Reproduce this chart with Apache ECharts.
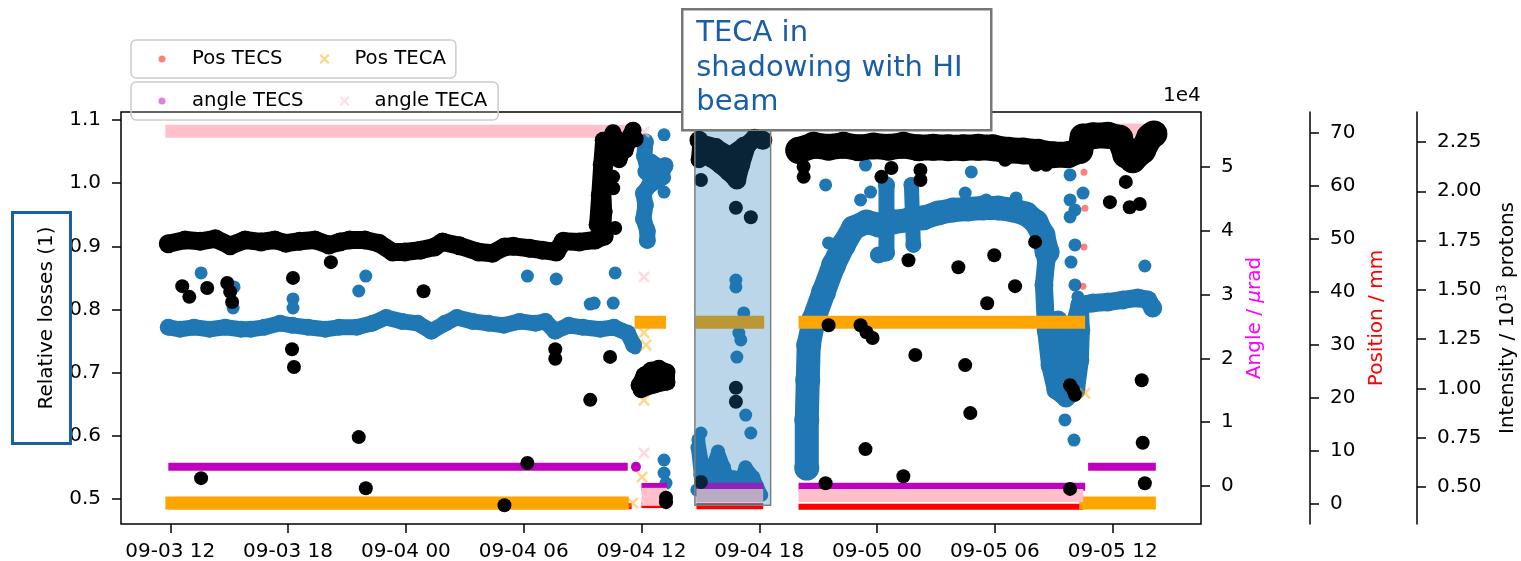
<!DOCTYPE html>
<html>
<head>
<meta charset="utf-8">
<script src="https://cdn.jsdelivr.net/npm/echarts@6/dist/echarts.min.js"></script>
<style>
  html, body { margin: 0; padding: 0; background: #fff; }
  #chart { width: 1521px; height: 561px; }
</style>
</head>
<body>
<div id="chart"></div>
<script>
// Time is expressed in hours since 09-03 00:00.
const timeTicks = [12, 18, 24, 30, 36, 42, 48, 54, 60];
const timeTickLabels = ['09-03 12', '09-03 18', '09-04 00', '09-04 06', '09-04 12',
                        '09-04 18', '09-05 00', '09-05 06', '09-05 12'];
const lossTicks = [0.5, 0.6, 0.7, 0.8, 0.9, 1.0, 1.1];
const angleTicks = [0, 10000, 20000, 30000, 40000, 50000];
const positionTicks = [0, 10, 20, 30, 40, 50, 60, 70];
const intensityTicks = [0.5, 0.75, 1.0, 1.25, 1.5, 1.75, 2.0, 2.25];

// Period where TECA shadows the HI beam: [start h, end h, low loss, high loss]
const shadowSpan = [[38.72, 42.58, 0.490, 1.084]];

// Crystal positions (mm), held levels: [start h, end h, value]
const posTecsLevels = [[11.9, 35.5, -0.4], [36.0, 37.3, -0.2], [38.8, 42.2, -0.4], [44.0, 58.5, -0.5]];
const posTecaLevels = [[11.75, 35.35, 0.2], [35.65, 37.25, 34.3], [38.75, 42.25, 34.3], [44.0, 58.6, 34.3], [58.3, 62.2, 0.2]];
const posTecsSparse = [[58.54, 62.6], [58.59, 55.8], [58.54, 48.5], [58.49, 41.1]];
const posTecaSparse = [[35.55, 0.2], [36.13, 32.3], [36.23, 30.0], [36.13, 19.6], [36.03, 5.1], [58.59, 20.9]];

// Crystal angles (urad), held levels: [start h, end h, value]
const angleTecsLevels = [[11.9, 35.3, 3000], [36.0, 37.3, -150], [38.8, 42.2, -100], [44.0, 58.6, -100], [58.75, 62.2, 3000]];
const angleTecaLevels = [[11.75, 35.5, 55600], [38.8, 42.2, -1500], [44.0, 58.5, -1500], [58.4, 62.2, 55800]];
const angleTecaPatch = [[36.0, -1700], [37.3, -1700]];
const angleTecsSparse = [[35.72, 3000]];
const angleTecaSparse = [[36.13, 55500], [36.13, 32760], [36.13, 5170]];

// Relative losses [h, value]
const lossRun1 = [[11.9, 0.904], [12.76, 0.910], [13.52, 0.908], [14.29, 0.912], [15.05, 0.901], [15.81, 0.910],
  [16.62, 0.907], [17.33, 0.910], [17.89, 0.905], [18.60, 0.908], [19.37, 0.910], [20.08, 0.902], [20.64, 0.907],
  [21.14, 0.910], [21.91, 0.910], [22.62, 0.905], [23.33, 0.891], [23.94, 0.891], [24.75, 0.894], [25.46, 0.899],
  [25.87, 0.907], [26.73, 0.901], [27.70, 0.891], [28.41, 0.889], [29.02, 0.899], [29.48, 0.900], [30.29, 0.897],
  [30.95, 0.894], [31.66, 0.891], [32.02, 0.908], [32.83, 0.907], [33.64, 0.910], [34.10, 0.916]];
const lossRise = [[34.05, 0.925], [34.10, 0.955], [34.05, 0.990], [34.15, 1.030], [34.25, 1.065], [34.55, 1.080],
  [34.86, 1.062], [35.17, 1.052], [35.47, 1.076], [35.68, 1.070]];
const lossRiseB = [[33.74, 0.934], [33.85, 0.981], [33.95, 1.029], [34.05, 1.068], [34.46, 1.050], [34.86, 1.037],
  [35.27, 1.068], [35.57, 1.084]];
const lossNoon = [[35.88, 0.680], [36.13, 0.696], [36.48, 0.704], [36.89, 0.707], [37.30, 0.701], [37.30, 0.685],
  [36.64, 0.680], [35.98, 0.673]];
const lossShadow = [[38.93, 1.068], [39.18, 1.052], [39.54, 1.040], [40.04, 1.029], [40.45, 1.018], [40.86, 1.005],
  [41.06, 1.029], [41.37, 1.060], [41.77, 1.071], [42.18, 1.068]];
const lossShadowB = [[38.93, 1.037], [39.0, 1.065], [39.8, 1.058], [40.5, 1.045], [41.2, 1.060]];
const lossRun2 = [[44.01, 1.052], [44.77, 1.060], [45.53, 1.057], [46.29, 1.060], [47.06, 1.056], [47.82, 1.059],
  [48.58, 1.057], [49.34, 1.060], [50.10, 1.056], [50.86, 1.057], [51.63, 1.056], [52.39, 1.056], [53.15, 1.057],
  [53.91, 1.056], [54.68, 1.052], [55.44, 1.051], [56.20, 1.049], [56.96, 1.045], [57.72, 1.045], [58.33, 1.052],
  [58.49, 1.073], [58.99, 1.075], [59.75, 1.076], [60.36, 1.071], [60.67, 1.045], [61.02, 1.037], [61.53, 1.052],
  [61.89, 1.073], [62.10, 1.078]];
const lossSparse = [[12.61, 0.837], [12.97, 0.820], [13.88, 0.834], [14.90, 0.842], [15.05, 0.828], [15.15, 0.812],
  [18.25, 0.850], [18.20, 0.737], [18.30, 0.709], [21.60, 0.598], [24.90, 0.829], [13.57, 0.533], [21.96, 0.517],
  [30.19, 0.557], [29.02, 0.490], [31.61, 0.737], [31.61, 0.722], [33.39, 0.657], [34.40, 0.725], [20.18, 0.875],
  [34.56, 1.010], [34.56, 0.992], [34.66, 0.929], [37.25, 0.495], [37.25, 0.502],
  [39.03, 1.005], [40.81, 0.961], [41.57, 0.946], [40.81, 0.676], [40.81, 0.654], [39.03, 0.527],
  [44.26, 1.026], [44.26, 1.010], [48.22, 1.010], [48.73, 1.024], [50.21, 1.021], [50.21, 1.005], [54.52, 1.037],
  [56.10, 1.029], [56.61, 1.029], [45.38, 0.525], [45.53, 0.775], [47.16, 0.775], [47.46, 0.764], [47.77, 0.755],
  [47.41, 0.579], [49.34, 0.536], [49.60, 0.878], [49.95, 0.728], [52.14, 0.867], [52.49, 0.712], [52.75, 0.636],
  [53.61, 0.810], [53.97, 0.886], [55.03, 0.837], [56.05, 0.907], [57.83, 0.516], [57.98, 0.673], [57.83, 0.680],
  [58.08, 0.665], [59.86, 0.970], [60.67, 1.002], [60.87, 0.962], [61.38, 0.967], [61.48, 0.688], [61.53, 0.589],
  [61.64, 0.525]];

// Beam intensity (1e13 protons) [h, value]
const intensityRun1 = [[11.9, 1.31], [12.5, 1.30], [13.2, 1.31], [14.0, 1.30], [14.8, 1.31], [15.6, 1.30], [16.1, 1.30],
  [16.8, 1.31], [17.6, 1.33], [18.2, 1.32], [19.0, 1.31], [19.9, 1.30], [20.6, 1.31], [21.5, 1.31], [22.3, 1.33],
  [23.0, 1.36], [23.8, 1.34], [24.6, 1.33], [25.3, 1.29], [26.0, 1.33], [26.6, 1.36], [27.4, 1.34], [28.2, 1.33],
  [29.0, 1.32], [29.8, 1.34], [30.6, 1.33], [31.1, 1.34], [31.6, 1.29], [32.3, 1.32], [33.0, 1.31], [33.9, 1.30],
  [34.6, 1.31], [35.3, 1.28], [35.6, 1.22]];
const intensityNoon = [[36.2, 2.25], [36.15, 2.18], [36.3, 2.12], [36.7, 2.10], [37.2, 2.13], [36.9, 2.06],
  [36.4, 2.03], [36.1, 1.99], [36.2, 1.93], [36.1, 1.86], [36.3, 1.80], [36.3, 1.75]];
const intensityNoonB = [[36.5, 2.15], [37.0, 2.12], [37.1, 2.07], [36.6, 2.05], [36.2, 2.10]];
const intensityShadow = [[38.9, 0.74], [39.1, 0.62], [39.3, 0.52], [39.6, 0.60], [39.9, 0.68], [40.2, 0.60],
  [40.5, 0.52], [40.9, 0.50], [41.3, 0.60], [41.7, 0.55], [42.1, 0.46]];
const intensityShadowB = [[38.85, 0.70], [39.0, 0.56], [39.25, 0.47], [39.5, 0.55], [39.7, 0.50], [40.0, 0.55],
  [40.3, 0.47], [40.7, 0.55], [41.0, 0.47], [41.5, 0.50], [41.9, 0.50]];
const intensityRamp = [[44.42, 0.596], [44.42, 0.840], [44.47, 1.043], [44.52, 1.220], [44.77, 1.347],
  [45.28, 1.489], [45.79, 1.626], [46.29, 1.728], [46.80, 1.814], [47.46, 1.844], [48.07, 1.829], [48.83, 1.844],
  [49.60, 1.854], [50.36, 1.865], [51.12, 1.890], [51.88, 1.905], [52.65, 1.910], [53.41, 1.915], [54.17, 1.915],
  [54.93, 1.905], [55.59, 1.885], [56.10, 1.844], [56.45, 1.778], [56.66, 1.692]];
const intensitySpikeA = [[48.07, 1.677], [48.48, 1.687], [48.48, 2.032]];
const intensitySpikeB = [[49.85, 1.728], [49.75, 2.032]];
const intensityDip = [[56.62, 1.65], [56.50, 1.525], [56.61, 1.296], [56.81, 1.119], [57.11, 0.992], [57.62, 0.951],
  [58.13, 0.992], [58.33, 1.144], [58.38, 1.296], [58.33, 1.423], [57.98, 1.296], [57.83, 1.068], [57.47, 1.144],
  [57.22, 1.347]];
const intensityRun2 = [[58.33, 1.423], [58.99, 1.433], [59.75, 1.438], [60.52, 1.449], [61.28, 1.459],
  [61.79, 1.449], [62.04, 1.408]];
const intensitySparse = [[13.57, 1.586], [15.25, 1.515], [15.20, 1.408], [18.25, 1.454], [18.25, 1.408],
  [21.96, 1.570], [21.60, 1.494], [30.19, 1.570], [31.66, 1.555], [34.66, 1.586], [33.39, 1.428], [34.56, 1.433],
  [35.68, 1.205], [33.59, 1.433], [37.15, 2.286], [37.15, 1.996], [36.23, 2.26], [37.15, 0.637], [37.15, 0.571],
  [37.25, 0.520], [40.81, 1.550], [40.81, 1.515], [41.21, 1.383], [40.96, 1.281], [41.06, 1.246], [40.86, 1.159],
  [41.31, 0.865], [41.57, 0.774], [39.03, 0.774], [38.82, 0.485], [39.94, 0.586], [41.21, 0.535], [40.96, 0.459],
  [45.38, 2.032], [45.53, 1.738], [47.41, 2.133], [47.16, 1.956], [47.67, 1.996], [52.80, 2.098], [52.49, 1.991],
  [53.56, 1.956], [55.08, 1.966], [56.56, 1.515], [56.61, 1.449], [57.83, 2.083], [57.83, 1.956], [58.08, 1.905],
  [58.49, 1.991], [57.83, 1.870], [58.08, 1.728], [57.88, 1.641], [58.08, 1.525], [58.23, 1.464], [57.57, 0.840],
  [58.03, 0.738], [61.64, 1.621]];

const FONT = 'DejaVu Sans';
const BLUE = '#1f77b4';
const BLACK = '#000000';
const RED = '#ff0000';
const ORANGE = '#ffa500';
const PURPLE = '#bf00bf';
const PINK = '#ffc0cb';
const CROSS = 'path://M0,1.5L1.5,0L5,3.5L8.5,0L10,1.5L6.5,5L10,8.5L8.5,10L5,6.5L1.5,10L0,8.5L3.5,5Z';
const DOT_ICON = 'path://M0,0M50,20M28.5,10A3.5,3.5,0,1,1,21.5,10A3.5,3.5,0,1,1,28.5,10Z';
const CROSS_ICON = 'path://M0,0M50,20M20,6.5L21.5,5L25,8.5L28.5,5L30,6.5L26.5,10L30,13.5L28.5,15L25,11.5L21.5,15L20,13.5L23.5,10Z';

// Flat levels become short thick line segments.
function levels(name, list, axis, color, width, z) {
  return list.map(([a, b, v]) => ({
    type: 'line', name, yAxisIndex: axis, data: [[a, v], [b, v]],
    symbol: 'none', lineStyle: { color, width, cap: 'butt' }, itemStyle: { color }, z, silent: true
  }));
}
// Dense clusters of samples drawn as a thick trace with round markers.
function trace(data, axis, color, width, z) {
  return {
    type: 'line', yAxisIndex: axis, data, symbol: 'circle', symbolSize: width + 1,
    showSymbol: true, showAllSymbol: true,
    lineStyle: { color, width, cap: 'round', join: 'round' }, itemStyle: { color, opacity: 1 }, z, silent: true
  };
}
function points(data, axis, color, size, z, opts) {
  return Object.assign({
    type: 'scatter', yAxisIndex: axis, data, symbol: 'circle', symbolSize: size,
    itemStyle: { color, opacity: 1 }, z, silent: true
  }, opts || {});
}

const tickStyle = { show: true, inside: false, length: 9, lineStyle: { color: '#000', width: 1.5 } };
const labelStyle = { color: '#000', fontSize: 20, fontFamily: FONT };

const series = [].concat(
  // intensity (blue)
  [trace(intensityRun1, 3, BLUE, 16, 2), trace(intensityNoon, 3, BLUE, 16, 2), trace(intensityNoonB, 3, BLUE, 15, 2),
   trace(intensityShadow, 3, BLUE, 13, 2), trace(intensityShadowB, 3, BLUE, 13, 2),
   trace(intensityRamp, 3, BLUE, 24, 2), trace(intensitySpikeA, 3, BLUE, 16, 2), trace(intensitySpikeB, 3, BLUE, 15, 2),
   trace(intensityDip, 3, BLUE, 18, 2), trace(intensityRun2, 3, BLUE, 18, 2),
   points(intensitySparse, 3, BLUE, 13, 2)],
  // positions
  levels('Pos TECS', posTecsLevels, 2, RED, 6, 3),
  [points(posTecsSparse, 2, RED, 7, 3, { itemStyle: { color: RED, opacity: 0.5 } })],
  levels('Pos TECA', posTecaLevels, 2, ORANGE, 13, 4),
  [points(posTecaSparse, 2, ORANGE, 12, 4, { symbol: CROSS, itemStyle: { color: ORANGE, opacity: 0.45 } })],
  // angles
  levels('angle TECS', angleTecsLevels, 1, PURPLE, 8, 5),
  [points(angleTecsSparse, 1, PURPLE, 10, 5)],
  levels('angle TECA', angleTecaLevels, 1, PINK, 13, 6),
  [{ type: 'line', yAxisIndex: 1, data: angleTecaPatch, symbol: 'none',
     lineStyle: { color: PINK, width: 18, cap: 'butt' }, z: 6, silent: true },
   points(angleTecaSparse, 1, PINK, 12, 6, { symbol: CROSS, itemStyle: { color: PINK, opacity: 0.6 } })],
  // relative losses (black)
  [trace(lossRun1, 0, BLACK, 18, 7), trace(lossRise, 0, BLACK, 16, 7), trace(lossRiseB, 0, BLACK, 16, 7),
   trace(lossNoon, 0, BLACK, 16, 7), trace(lossShadow, 0, BLACK, 18, 7), trace(lossShadowB, 0, BLACK, 16, 7),
   trace(lossRun2, 0, BLACK, 26, 7), points(lossSparse, 0, BLACK, 14, 7)],
  // shaded shadowing period
  [{
    type: 'custom', yAxisIndex: 0, z: 20, silent: true, data: shadowSpan,
    encode: { x: [0, 1], y: [2, 3] },
    renderItem: (params, api) => {
      const a = api.coord([api.value(0), api.value(3)]);
      const b = api.coord([api.value(1), api.value(2)]);
      return { type: 'rect', shape: { x: a[0], y: a[1], width: b[0] - a[0], height: b[1] - a[1] },
               style: { fill: 'rgba(31,119,180,0.3)', stroke: '#7f7f7f', lineWidth: 1.5 } };
    }
  }]
);

const legendBase = {
  orient: 'horizontal', left: 131, itemWidth: 50, itemHeight: 20,
  borderColor: '#cccccc', borderWidth: 1.5, borderRadius: 5, backgroundColor: 'rgba(255,255,255,0.2)',
  textStyle: { color: '#000', fontSize: 19.7, fontFamily: FONT },
  itemStyle: { opacity: 0.5 }, selectedMode: false
};

const option = {
  animation: false,
  backgroundColor: '#fff',
  grid: { left: 121, top: 112, width: 1080, height: 412, show: true, borderColor: '#000', borderWidth: 1.5,
          backgroundColor: 'transparent', containLabel: false, outerBoundsMode: 'none' },
  legend: [
    Object.assign({}, legendBase, { top: 40, padding: [9, 10, 9, 6], itemGap: 17,
      data: [{ name: 'Pos TECS', icon: DOT_ICON }, { name: 'Pos TECA', icon: CROSS_ICON }] }),
    Object.assign({}, legendBase, { top: 82, padding: [9, 11, 9, 6], itemGap: 16,
      data: [{ name: 'angle TECS', icon: DOT_ICON }, { name: 'angle TECA', icon: CROSS_ICON }] })
  ],
  xAxis: {
    type: 'value', min: 9.49, max: 64.5, position: 'bottom',
    axisLine: { show: false, onZero: false }, splitLine: { show: false },
    axisTick: Object.assign({ customValues: timeTicks }, tickStyle),
    axisLabel: Object.assign({ customValues: timeTicks, margin: 18,
      formatter: v => timeTickLabels[timeTicks.indexOf(v)] }, labelStyle)
  },
  yAxis: [
    {
      type: 'value', position: 'left', min: 0.4604, max: 1.1127,
      name: 'Relative losses (1)', nameLocation: 'middle', nameGap: 64, nameRotate: 90,
      nameTextStyle: { color: '#000', fontSize: 20, fontFamily: FONT },
      axisLine: { show: false, onZero: false }, splitLine: { show: false },
      axisTick: Object.assign({ customValues: lossTicks }, tickStyle),
      axisLabel: Object.assign({ customValues: lossTicks, margin: 20, formatter: v => v.toFixed(1) }, labelStyle)
    },
    {
      type: 'value', position: 'right', min: -5956, max: 58620,
      name: '{n|Angle / }{i|μ}{n|rad}', nameLocation: 'middle', nameGap: 44, nameRotate: 90,
      nameTextStyle: { rich: {
        n: { color: '#ff00ff', fontSize: 20, fontFamily: FONT },
        i: { color: '#ff00ff', fontSize: 20, fontFamily: FONT, fontStyle: 'italic' } } },
      axisLine: { show: false, onZero: false }, splitLine: { show: false },
      axisTick: Object.assign({ customValues: angleTicks }, tickStyle),
      axisLabel: Object.assign({ customValues: angleTicks, margin: 20, formatter: v => String(v / 10000) }, labelStyle)
    },
    {
      type: 'value', position: 'right', offset: 109, min: -3.77, max: 73.96,
      name: 'Position / mm', nameLocation: 'middle', nameGap: 53, nameRotate: 90,
      nameTextStyle: { color: '#ff0000', fontSize: 20, fontFamily: FONT },
      axisLine: { show: true, onZero: false, lineStyle: { color: '#000', width: 1.5 } }, splitLine: { show: false },
      axisTick: Object.assign({ customValues: positionTicks }, tickStyle),
      axisLabel: Object.assign({ customValues: positionTicks, margin: 20 }, labelStyle)
    },
    {
      type: 'value', position: 'right', offset: 216, min: 0.3123, max: 2.402,
      name: '{n|Intensity / 10}{s|13}{n| protons}', nameLocation: 'middle', nameGap: 78, nameRotate: 90,
      nameTextStyle: { rich: {
        n: { color: '#000', fontSize: 20, fontFamily: FONT, lineHeight: 26 },
        s: { color: '#000', fontSize: 14, fontFamily: FONT, lineHeight: 14, verticalAlign: 'top' } } },
      axisLine: { show: true, onZero: false, lineStyle: { color: '#000', width: 1.5 } }, splitLine: { show: false },
      axisTick: Object.assign({ customValues: intensityTicks }, tickStyle),
      axisLabel: Object.assign({ customValues: intensityTicks, margin: 20, formatter: v => v.toFixed(2) }, labelStyle)
    }
  ],
  graphic: [
    { type: 'text', left: 1163, top: 86, z: 30,
      style: { text: '1e4', fill: '#000', fontSize: 20, fontFamily: FONT } },
    { type: 'rect', left: 10, top: 210, z: 30, silent: true,
      shape: { width: 58, height: 231 }, style: { fill: 'none', stroke: '#1a5ea8', lineWidth: 3 } },
    { type: 'group', left: 681, top: 8, z: 40, children: [
      { type: 'rect', shape: { x: 0, y: 0, width: 309, height: 121 },
        style: { fill: '#fff', stroke: '#777777', lineWidth: 2.5 } },
      { type: 'text', x: 14, y: 7,
        style: { text: 'TECA in\nshadowing with HI\nbeam', fill: '#1a5ea8', fontSize: 29,
                 fontFamily: FONT, lineHeight: 34.5 } }
    ] }
  ],
  series
};

const chart = echarts.init(document.getElementById('chart'), null, { renderer: 'canvas' });
chart.setOption(option);
</script>
</body>
</html>
